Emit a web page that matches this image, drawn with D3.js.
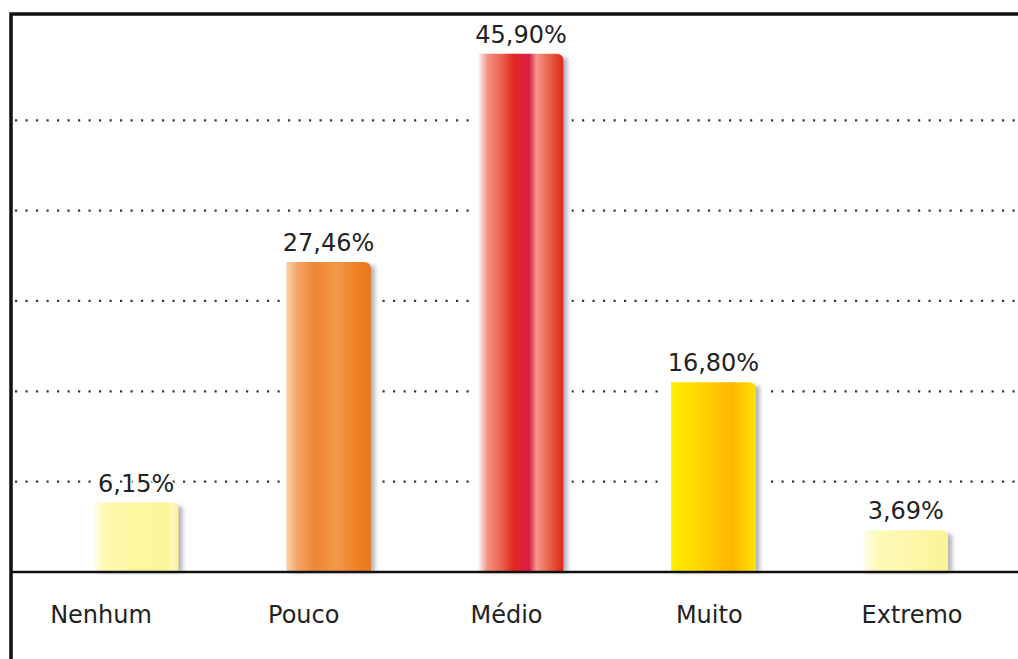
<!DOCTYPE html>
<html>
<head>
<meta charset="utf-8">
<script src="https://cdn.jsdelivr.net/npm/d3@7"></script>
<style>
  html, body { margin: 0; padding: 0; background: #fff; }
  svg { display: block; }
  text { font-family: "Comic Sans MS", "DejaVu Sans", sans-serif; fill: #222; }
</style>
</head>
<body>
<svg width="1018" height="659"></svg>
<script>
const categories = ["Nenhum", "Pouco", "Médio", "Muito", "Extremo"];
const values = [6.15, 27.46, 45.9, 16.8, 3.69];
const valueLabels = ["6,15%", "27,46%", "45,90%", "16,80%", "3,69%"];
const gridTicks = [8, 16, 24, 32, 40];

// horizontal gradient stops per bar
const barStops = [
  [[0, "#fffef0"], [0.12, "#fdf7b2"], [0.5, "#fdf7a0"], [0.88, "#fdf59c"], [0.93, "#fff9c0"], [1, "#fbf08a"]],
  [[0, "#fbd3ae"], [0.12, "#f4a66a"], [0.35, "#ec8636"], [0.6, "#f29a48"], [0.85, "#ee7e24"], [1, "#ea781c"]],
  [[0, "#fdf2f0"], [0.1, "#f49484"], [0.28, "#ea5e4a"], [0.42, "#e0261e"], [0.6, "#d8204a"], [0.68, "#f5968c"], [0.86, "#e65a3e"], [1, "#e02418"]],
  [[0, "#ffee00"], [0.35, "#ffd600"], [0.72, "#ffb600"], [1, "#ffe400"]],
  [[0, "#fffef2"], [0.15, "#fdf8bc"], [0.6, "#fdf7a8"], [1, "#fbf296"]]
];

const svg = d3.select("svg");
const W = 1018, H = 659;
const frameX = 11, frameY = 14, baseY = 572;

const x = d3.scaleBand().domain(categories).range([40, 1002]).paddingInner(0.56).paddingOuter(0.28);
const xl = d3.scalePoint().domain(categories).range([101, 912]);
const y = d3.scaleLinear().domain([0, 49.5]).range([baseY, 13]);

const defs = svg.append("defs");
categories.forEach((c, i) => {
  const g = defs.append("linearGradient").attr("id", "g" + i)
    .attr("x1", 0).attr("x2", 1).attr("y1", 0).attr("y2", 0);
  barStops[i].forEach(s => g.append("stop").attr("offset", s[0]).attr("stop-color", s[1]));
});
defs.append("filter").attr("id", "blur").attr("x", "-50%").attr("width", "200%")
  .append("feGaussianBlur").attr("stdDeviation", 2);

// dotted gridlines
svg.append("g").selectAll("line").data(gridTicks).join("line")
  .attr("x1", frameX + 4).attr("x2", W)
  .attr("y1", d => y(d)).attr("y2", d => y(d))
  .attr("stroke", "#3a3a3a").attr("stroke-width", 2.2)
  .attr("stroke-dasharray", "2.2 8.3");

const data = categories.map((c, i) => ({ c, v: values[i], label: valueLabels[i], i }));
const bw = x.bandwidth();

// white gap behind bars
svg.append("g").selectAll("rect").data(data).join("rect")
  .attr("x", d => x(d.c) - 6).attr("width", bw + 14)
  .attr("y", d => y(d.v) - 2).attr("height", d => baseY - y(d.v) + 2)
  .attr("fill", "#fff");

// shadow
svg.append("g").selectAll("rect").data(data).join("rect")
  .attr("x", d => x(d.c) + 4).attr("width", bw)
  .attr("y", d => y(d.v) + 4).attr("height", d => baseY - y(d.v) - 4)
  .attr("fill", "#7c7f90").attr("opacity", 0.6)
  .attr("filter", "url(#blur)");

// bars, top-right corner rounded
const barPath = d => {
  const x0 = x(d.c), x1 = x0 + bw, y0 = y(d.v), r = 7;
  return `M${x0},${baseY}V${y0}H${x1 - r}Q${x1},${y0} ${x1},${y0 + r}V${baseY}Z`;
};
svg.append("g").selectAll("path").data(data).join("path")
  .attr("d", barPath)
  .attr("fill", d => `url(#g${d.i})`);

// value labels
svg.append("g").selectAll("text").data(data).join("text")
  .attr("x", d => x(d.c) + bw / 2)
  .attr("y", d => y(d.v) - 11)
  .attr("text-anchor", "middle")
  .attr("font-size", 24)
  .attr("stroke", "#fff").attr("stroke-width", 3).attr("paint-order", "stroke")
  .text(d => d.label);

// baseline
svg.append("line").attr("x1", frameX).attr("x2", W)
  .attr("y1", baseY).attr("y2", baseY)
  .attr("stroke", "#111").attr("stroke-width", 2.5);

// category labels
svg.append("g").selectAll("text").data(categories).join("text")
  .attr("x", d => xl(d)).attr("y", 623)
  .attr("text-anchor", "middle")
  .attr("font-size", 24)
  .text(d => d);

// frame (top and left)
svg.append("path")
  .attr("d", `M${frameX},${H}V${frameY}H${W}`)
  .attr("fill", "none").attr("stroke", "#111").attr("stroke-width", 3.5);
</script>
</body>
</html>
